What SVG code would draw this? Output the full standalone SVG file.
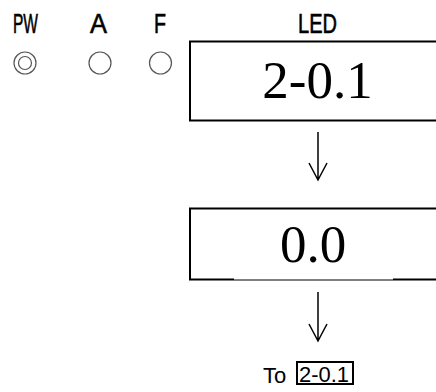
<svg xmlns="http://www.w3.org/2000/svg" width="436" height="392" viewBox="0 0 436 392">
<defs>
<style>
.lbl{font-family:"Liberation Sans",Arial,sans-serif;font-size:27px;fill:#000;stroke:#000;stroke-width:0.6;}
.led{font-family:"Liberation Serif","Times New Roman",serif;font-size:53px;fill:#000;text-anchor:middle;}
.lamp{fill:none;stroke:#555;stroke-width:1.2;}
.box{fill:#fff;stroke:#000;stroke-width:2;}
.arr{fill:none;stroke:#000;stroke-width:1.5;}
.note{font-family:"Liberation Sans",Arial,sans-serif;font-size:22px;fill:#000;}
</style>
</defs>
<rect width="436" height="392" fill="#fff"/>
<g id="labels">
<text class="lbl" x="13" y="33" textLength="25" lengthAdjust="spacingAndGlyphs">PW</text>
<text class="lbl" x="90" y="33" textLength="17" lengthAdjust="spacingAndGlyphs">A</text>
<text class="lbl" x="154" y="33" textLength="12" lengthAdjust="spacingAndGlyphs">F</text>
<text class="lbl" x="298" y="33" textLength="39" lengthAdjust="spacingAndGlyphs">LED</text>
</g>
<g id="lamp-pw">
<circle class="lamp" cx="25" cy="63" r="11"/>
<circle class="lamp" cx="25" cy="63" r="6.5"/>
</g>
<g id="lamp-a"><circle class="lamp" cx="100" cy="63" r="11"/></g>
<g id="lamp-f"><circle class="lamp" cx="160.5" cy="63" r="11"/></g>
<g id="node-led1">
<rect class="box" x="190" y="41.5" width="260" height="79"/>
<text class="led" x="317.5" y="98">2-0.1</text>
</g>
<g id="node-led2">
<path d="M450 208.5H190V279.5H234" fill="#fff" stroke="#000" stroke-width="2"/>
<path d="M234 280H393" stroke="#000" stroke-width="1.2" fill="none"/>
<path d="M393 279.5H450" stroke="#000" stroke-width="2" fill="none"/>
<text class="led" x="313" y="262">0.0</text>
</g>
<g id="connectors">
<path class="arr" d="M318 132V180M309 163L318 180L327 163"/>
<path class="arr" d="M318 292V341M309 324L318 341L327 324"/>
</g>
<g id="node-to">
<text class="note" x="263" y="383">To</text>
<rect x="297" y="362" width="56" height="22" fill="none" stroke="#000" stroke-width="2"/>
<text class="note" x="299" y="382" textLength="50" lengthAdjust="spacingAndGlyphs">2-0.1</text>
</g>
</svg>
